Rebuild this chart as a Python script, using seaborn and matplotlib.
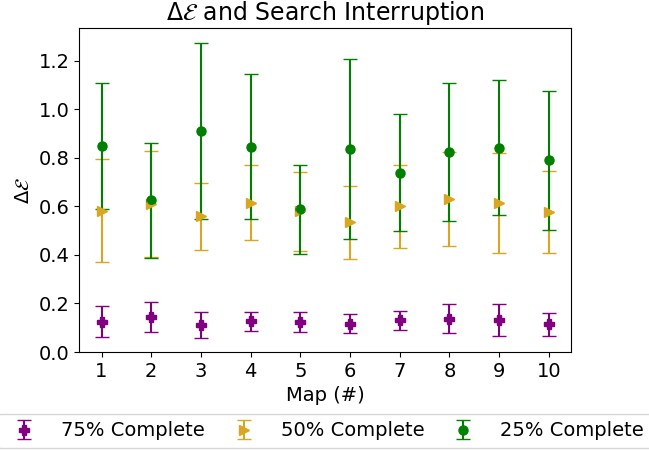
import matplotlib
matplotlib.use("Agg")
import matplotlib.pyplot as plt
import seaborn as sns
import pandas as pd

maps = [1, 2, 3, 4, 5, 6, 7, 8, 9, 10]

mean_75 = [0.124, 0.144, 0.110, 0.126, 0.124, 0.116, 0.130, 0.138, 0.133, 0.114]
err_75 = [0.064, 0.062, 0.053, 0.040, 0.042, 0.039, 0.040, 0.060, 0.066, 0.047]

mean_50 = [0.583, 0.610, 0.560, 0.616, 0.580, 0.534, 0.601, 0.629, 0.614, 0.577]
err_50 = [0.214, 0.220, 0.138, 0.155, 0.162, 0.150, 0.171, 0.194, 0.205, 0.168]

mean_25 = [0.849, 0.625, 0.911, 0.846, 0.588, 0.836, 0.740, 0.823, 0.842, 0.791]
err_25 = [0.259, 0.238, 0.364, 0.299, 0.184, 0.370, 0.241, 0.284, 0.278, 0.287]

labels = ["75% Complete", "50% Complete", "25% Complete"]
colors = ["purple", "goldenrod", "green"]
markers = ["P", ">", "o"]

fig = plt.figure(figsize=(6.49, 4.51), dpi=100)
ax = fig.add_axes([0.122, 0.2195, 0.758, 0.7185])

handles = []
for mean, err, lab, col, mk in zip([mean_75, mean_50, mean_25],
                                   [err_75, err_50, err_25],
                                   labels, colors, markers):
    df = pd.DataFrame({"map": maps, "mean": mean})
    h = ax.errorbar(df["map"], df["mean"], yerr=err, fmt=mk, color=col,
                    capsize=5, elinewidth=1.5, markersize=6.5, label=lab)
    sns.scatterplot(data=df, x="map", y="mean", marker=mk, color=col,
                    s=42, edgecolor=col, linewidth=0, ax=ax, legend=False,
                    zorder=3)
    handles.append(h)

ax.set_ylim(bottom=0)
ax.set_xticks(maps)
ax.tick_params(labelsize=14)
ax.set_xlabel("Map (#)", fontsize=14)
ax.set_ylabel(r"$\Delta\mathcal{E}$", fontsize=14)
ax.set_title(r"$\Delta\mathcal{E}$ and Search Interruption", fontsize=17)

fig.legend(handles, labels, loc="upper center", ncol=3, fontsize=14,
           columnspacing=1.0, handletextpad=0.9,
           bbox_to_anchor=(0.5, 1 - 404 / 451), frameon=True)

fig.savefig("out.png", dpi=100)
